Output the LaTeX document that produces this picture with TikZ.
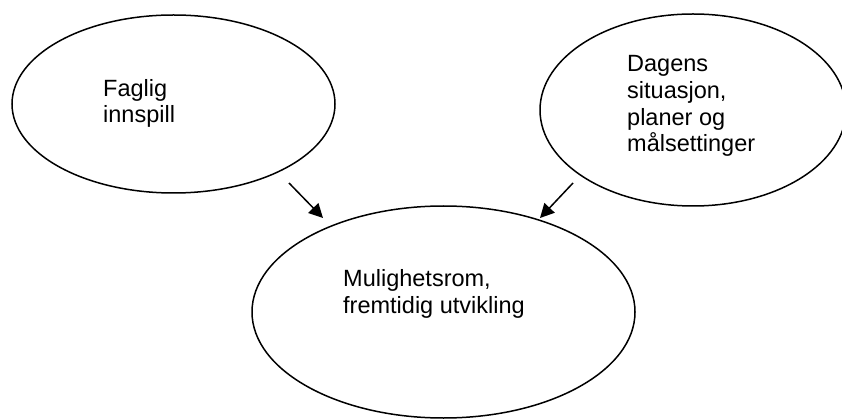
\documentclass[tikz,border=0pt]{standalone}
\usepackage{fontspec}
\setmainfont{Liberation Sans}
\usetikzlibrary{shapes.geometric,arrows.meta}
\tikzset{
  oval/.style={ellipse, draw=black, line width=1.5pt, inner sep=0pt},
  lbl/.style={anchor=base west, align=left, inner sep=0pt, font=\fontsize{23.5}{26.8}\selectfont},
  arr/.style={draw=black, line width=1.5pt, -{Triangle[length=14pt,width=14pt]}}
}
\begin{document}
\begin{tikzpicture}[x=1pt,y=-1pt]
\useasboundingbox (0,0) rectangle (842,419);
\node[oval, minimum width=323pt, minimum height=178pt] (left) at (173.5,104) {};
\node[oval, minimum width=306pt, minimum height=192pt] (right) at (693,110) {};
\node[oval, minimum width=383pt, minimum height=212pt] (bottom) at (443.5,312) {};
\node[lbl] (tleft) at (103,123) {Faglig\\innspill};
\node[lbl] (tright) at (627,152) {Dagens\\situasjon,\\planer og\\målsettinger};
\node[lbl] (tbottom) at (343,313) {Mulighetsrom,\\fremtidig utvikling};
\coordinate (a1s) at (289,183);
\coordinate (a1e) at (323,218);
\coordinate (a2s) at (573,183);
\coordinate (a2e) at (540,218);
\draw[arr] (a1s) -- (a1e);
\draw[arr] (a2s) -- (a2e);
\end{tikzpicture}
\end{document}
